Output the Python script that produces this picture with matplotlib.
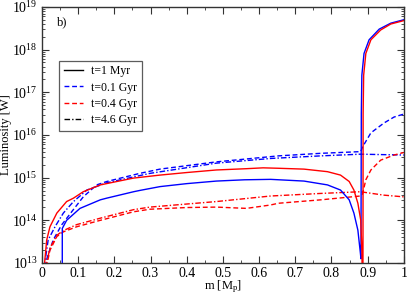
import numpy as np
import matplotlib
matplotlib.use("Agg")
import matplotlib.pyplot as plt
from matplotlib.lines import Line2D
from matplotlib.ticker import MultipleLocator, LogLocator, FuncFormatter

plt.rcParams['font.family'] = ['Liberation Serif', 'DejaVu Serif']
plt.rcParams['mathtext.fontset'] = 'custom'
plt.rcParams['mathtext.rm'] = 'Liberation Serif'
plt.rcParams['mathtext.it'] = 'Liberation Serif:italic'

# values, as log10(L / W)
m_blue_solid = [0.056, 0.0561, 0.068, 0.105, 0.161, 0.179, 0.253, 0.27, 0.326, 0.40, 0.482,
                0.56, 0.632, 0.724, 0.789, 0.825, 0.849, 0.862, 0.873, 0.880, 0.8815,
                0.8825, 0.884, 0.890, 0.904, 0.932, 0.964, 1.0]
lg_blue_solid = [12.9, 13.81, 14.0, 14.28, 14.48, 14.52, 14.67, 14.70, 14.79, 14.86, 14.92,
                 14.95, 14.96, 14.92, 14.83, 14.71, 14.48, 14.17, 13.77, 13.23, 13.1,
                 16.5, 17.4, 17.91, 18.23, 18.48, 18.62, 18.70]

m_red_solid = [0.006, 0.013, 0.022, 0.041, 0.068, 0.087, 0.114, 0.161, 0.253, 0.326, 0.40,
               0.482, 0.565, 0.611, 0.653, 0.724, 0.789, 0.825, 0.849, 0.862, 0.873, 0.881,
               0.884, 0.8855, 0.887, 0.8875, 0.889, 0.895, 0.909, 0.936, 0.964, 1.0]
lg_red_solid = [12.9, 13.54, 13.85, 14.17, 14.44, 14.52, 14.67, 14.83, 14.99, 15.06, 15.12,
                15.18, 15.21, 15.23, 15.22, 15.20, 15.14, 15.06, 14.91, 14.71, 14.40, 14.0,
                13.3, 12.5, 12.5, 16.5, 17.4, 17.91, 18.23, 18.46, 18.60, 18.68]

m_blue_dash = [0.008, 0.015, 0.031, 0.054, 0.082, 0.114, 0.151, 0.179, 0.27, 0.326, 0.482,
               0.653, 0.77, 0.881, 0.886, 0.909, 0.945, 0.973, 1.0]
lg_blue_dash = [12.9, 13.15, 13.54, 13.89, 14.20, 14.55, 14.83, 14.91, 15.10, 15.2, 15.37,
                15.51, 15.57, 15.61, 15.72, 16.05, 16.28, 16.42, 16.49]

m_blue_dashdot = [0.006, 0.017, 0.036, 0.059, 0.087, 0.124, 0.179, 0.298, 0.482, 0.632,
                  0.77, 0.88, 1.0]
lg_blue_dashdot = [12.9, 13.54, 13.85, 14.17, 14.44, 14.71, 14.88, 15.1, 15.34, 15.45,
                   15.51, 15.55, 15.53]

m_red_dash = [0.012, 0.022, 0.041, 0.059, 0.096, 0.161, 0.253, 0.298, 0.40, 0.482, 0.565,
              0.632, 0.653, 0.77, 0.88, 0.886, 0.895, 0.909, 0.936, 0.973, 1.0]
lg_red_dash = [12.9, 13.30, 13.62, 13.73, 13.85, 14.0, 14.20, 14.26, 14.30, 14.31, 14.28,
               14.36, 14.40, 14.48, 14.57, 14.62, 14.95, 15.18, 15.41, 15.53, 15.59]

m_red_dashdot = [0.01, 0.022, 0.041, 0.059, 0.096, 0.161, 0.253, 0.298, 0.482, 0.632, 0.77,
                 0.88, 0.945, 1.0]
lg_red_dashdot = [12.9, 13.35, 13.65, 13.76, 13.9, 14.05, 14.25, 14.31, 14.44, 14.57, 14.63,
                  14.67, 14.59, 14.55]

legend_labels = ["t=1 Myr", "t=0.1 Gyr", "t=0.4 Gyr", "t=4.6 Gyr"]

fig = plt.figure(figsize=(4.07, 2.94), dpi=100)
ax = fig.add_axes([0.1032, 0.1054, 0.889, 0.871])

dash = (0, (3.5, 2))
dashdot = (0, (4, 1.5, 1, 1.5))
lw = 1.0

ax.plot(m_blue_dash, 10 ** np.array(lg_blue_dash), color='b', ls=dash, lw=lw)
ax.plot(m_blue_dashdot, 10 ** np.array(lg_blue_dashdot), color='b', ls=dashdot, lw=lw)
ax.plot(m_red_dash, 10 ** np.array(lg_red_dash), color='r', ls=dash, lw=lw)
ax.plot(m_red_dashdot, 10 ** np.array(lg_red_dashdot), color='r', ls=dashdot, lw=lw)
ax.plot(m_blue_solid, 10 ** np.array(lg_blue_solid), color='b', lw=lw)
ax.plot(m_red_solid, 10 ** np.array(lg_red_solid), color='r', lw=lw)

ax.set_yscale('log')
ax.set_xlim(0, 1)
ax.set_ylim(1e13, 1e19)
ax.xaxis.set_major_locator(MultipleLocator(0.1))
ax.xaxis.set_minor_locator(MultipleLocator(0.05))
ax.xaxis.set_major_formatter(FuncFormatter(
    lambda v, p: '0' if abs(v) < 1e-9 else ('1' if abs(v - 1) < 1e-9 else f'{v:.1f}')))
ax.yaxis.set_major_locator(LogLocator(base=10, numticks=10))
ax.yaxis.set_minor_locator(LogLocator(base=10, subs=np.arange(2, 10), numticks=100))
ax.tick_params(which='both', direction='in', top=True, right=True, labelsize=10,
               color='#333333', pad=3)
ax.tick_params(which='major', length=5)
ax.tick_params(which='minor', length=2.5)
for s in ax.spines.values():
    s.set_color('#333333')
    s.set_linewidth(1.0)

ax.set_xlabel(r'm [M$_\mathrm{p}$]', fontsize=9, labelpad=-1)
ax.set_ylabel('Luminosity [W]', fontsize=9, labelpad=0)
ax.text(0.04, 0.93, 'b)', transform=ax.transAxes, fontsize=9)

handles = [Line2D([], [], color='k', lw=lw),
           Line2D([], [], color='b', ls=dash, lw=lw),
           Line2D([], [], color='r', ls=dash, lw=lw),
           Line2D([], [], color='k', ls=dashdot, lw=lw)]
leg = ax.legend(handles, legend_labels, loc='upper left', bbox_to_anchor=(0.048, 0.79),
                fontsize=8.5, frameon=True, fancybox=False, handlelength=1.6,
                labelspacing=0.35, borderpad=0.4, handletextpad=0.7, borderaxespad=0)
leg.get_frame().set_edgecolor('#333333')
leg.get_frame().set_linewidth(0.9)

fig.savefig('out.png', dpi=100)
